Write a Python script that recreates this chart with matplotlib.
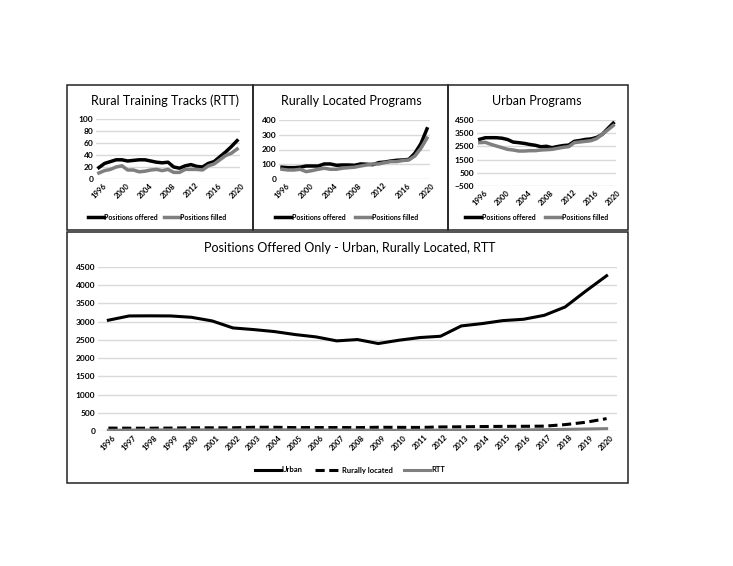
import matplotlib.pyplot as plt
from matplotlib.patches import Rectangle
from matplotlib.lines import Line2D

plt.rcParams['font.family'] = ['Lato', 'DejaVu Sans']

years = list(range(1996, 2021))

rtt_offered = [19, 26, 29, 32, 32, 30, 31, 32, 32, 30, 28, 27, 28, 20, 18,
               22, 24, 21, 20, 26, 29, 37, 45, 54, 64]
rtt_filled = [10, 14, 16, 20, 22, 15, 15, 12, 13, 15, 16, 14, 16, 11, 11,
              16, 16, 16, 15, 22, 25, 32, 39, 43, 50]

rural_offered = [80, 77, 77, 80, 88, 88, 88, 102, 102, 93, 95, 95, 93, 102, 100,
                 97, 111, 115, 122, 127, 129, 133, 175, 240, 340]
rural_filled = [66, 61, 61, 66, 50, 57, 66, 73, 66, 66, 73, 77, 80, 88, 95,
                102, 102, 111, 118, 118, 125, 129, 156, 209, 277]

urban_offered = [3040, 3157, 3160, 3157, 3120, 3020, 2828, 2783, 2728, 2646, 2582,
                 2473, 2509, 2400, 2491, 2564, 2600, 2883, 2947, 3029, 3066,
                 3175, 3403, 3841, 4260]
urban_filled = [2783, 2808, 2657, 2530, 2404, 2278, 2227, 2150, 2150, 2177, 2177,
                2227, 2250, 2278, 2354, 2430, 2480, 2783, 2833, 2884, 2934,
                3086, 3414, 3742, 4080]

W, H = 733, 566
BLACK = '#000000'
GREY = '#7f7f7f'
GRID = '#d9d9d9'

fig = plt.figure(figsize=(W / 100, H / 100), dpi=100)


def box(x0, y0, x1, y1):
    return [x0 / W, 1 - y1 / H, (x1 - x0) / W, (y1 - y0) / H]


def frame(x0, y0, x1, y1):
    fig.add_artist(Rectangle((x0 / W, 1 - y1 / H), (x1 - x0) / W, (y1 - y0) / H,
                             transform=fig.transFigure, fill=False,
                             edgecolor='#222222', linewidth=1.1))


def style(ax, yticks, xticks, fs):
    for s in ax.spines.values():
        s.set_visible(False)
    ax.set_yticks(yticks)
    ax.set_ylim(yticks[0], yticks[-1])
    ax.grid(axis='y', color=GRID, linewidth=1)
    ax.set_axisbelow(True)
    ax.set_xlim(1995.5, 2020.5)
    ax.set_xticks(xticks)
    ax.set_xticklabels([str(x) for x in xticks], rotation=45, fontsize=fs,
                       fontweight='bold', ha='center', va='top')
    ax.tick_params(length=0, pad=2)
    for t in ax.get_yticklabels():
        t.set_fontsize(fs + 0.5)
        t.set_fontweight('bold')


def small_legend(x_line, y, labels, colors, gap):
    for i, (lab, c) in enumerate(zip(labels, colors)):
        xs = x_line + i * gap
        fig.add_artist(Line2D([xs / W, (xs + 16) / W], [1 - y / H, 1 - y / H],
                              color=c, linewidth=2.5,
                              transform=fig.transFigure))
        fig.text((xs + 16.5) / W, 1 - y / H, lab, fontsize=5, fontweight='bold',
                 va='center', ha='left')


frames = [(67, 85, 253, 230), (253, 85, 448, 230), (448, 85, 628, 230),
          (67, 232, 628, 483)]
for f in frames:
    frame(*f)

top_ticks = list(range(1996, 2021, 4))

# Rural Training Tracks
ax1 = fig.add_axes(box(96, 119, 240, 179))
ax1.plot(years, rtt_offered, color=BLACK, linewidth=2.5)
ax1.plot(years, rtt_filled, color=GREY, linewidth=2.5)
style(ax1, [0, 20, 40, 60, 80, 100], top_ticks, 5.5)
fig.text(165 / W, 1 - 101 / H, 'Rural Training Tracks (RTT)', fontsize=9,
         ha='center', va='center')
small_legend(88, 217, ['Positions offered', 'Positions filled'], [BLACK, GREY], 76)

# Rurally Located Programs
ax2 = fig.add_axes(box(279, 120, 430, 179))
ax2.plot(years, rural_offered, color=BLACK, linewidth=2.5)
ax2.plot(years, rural_filled, color=GREY, linewidth=2.5)
style(ax2, [0, 100, 200, 300, 400], top_ticks, 5.5)
fig.text(351 / W, 1 - 101 / H, 'Rurally Located Programs', fontsize=9,
         ha='center', va='center')
small_legend(275, 217, ['Positions offered', 'Positions filled'], [BLACK, GREY], 80)

# Urban Programs
ax3 = fig.add_axes(box(477, 120, 616, 186))
ax3.plot(years, urban_offered, color=BLACK, linewidth=2.5)
ax3.plot(years, urban_filled, color=GREY, linewidth=2.5)
style(ax3, [-500, 500, 1500, 2500, 3500, 4500], top_ticks, 5.5)
fig.text(537 / W, 1 - 101 / H, 'Urban Programs', fontsize=9,
         ha='center', va='center')
small_legend(465, 217, ['Positions offered', 'Positions filled'], [BLACK, GREY], 80)

# Positions offered only
ax4 = fig.add_axes(box(98, 267, 617, 431))
ax4.plot(years, urban_offered, color=BLACK, linewidth=2.2)
ax4.plot(years, rural_offered, color=BLACK, linewidth=2.2, linestyle=(0, (3, 1.5)))
ax4.plot(years, rtt_offered, color=GREY, linewidth=2.2)
style(ax4, list(range(0, 4501, 500)), years, 5.5)
fig.text(350 / W, 1 - 248 / H, 'Positions Offered Only - Urban, Rurally Located, RTT',
         fontsize=9, ha='center', va='center')

leg_y = 470
items = [('Urban', BLACK, '-', 255), ('Rurally located', BLACK, (0, (3, 1.5)), 315),
         ('RTT', GREY, '-', 404)]
for lab, c, ls, xs in items:
    fig.add_artist(Line2D([xs / W, (xs + 26) / W], [1 - leg_y / H, 1 - leg_y / H],
                          color=c, linewidth=2.2, linestyle=ls,
                          transform=fig.transFigure))
    fig.text((xs + 27) / W, 1 - leg_y / H, lab, fontsize=5.5, fontweight='bold',
             va='center', ha='left')

fig.savefig('out.png', dpi=100, facecolor='white')
